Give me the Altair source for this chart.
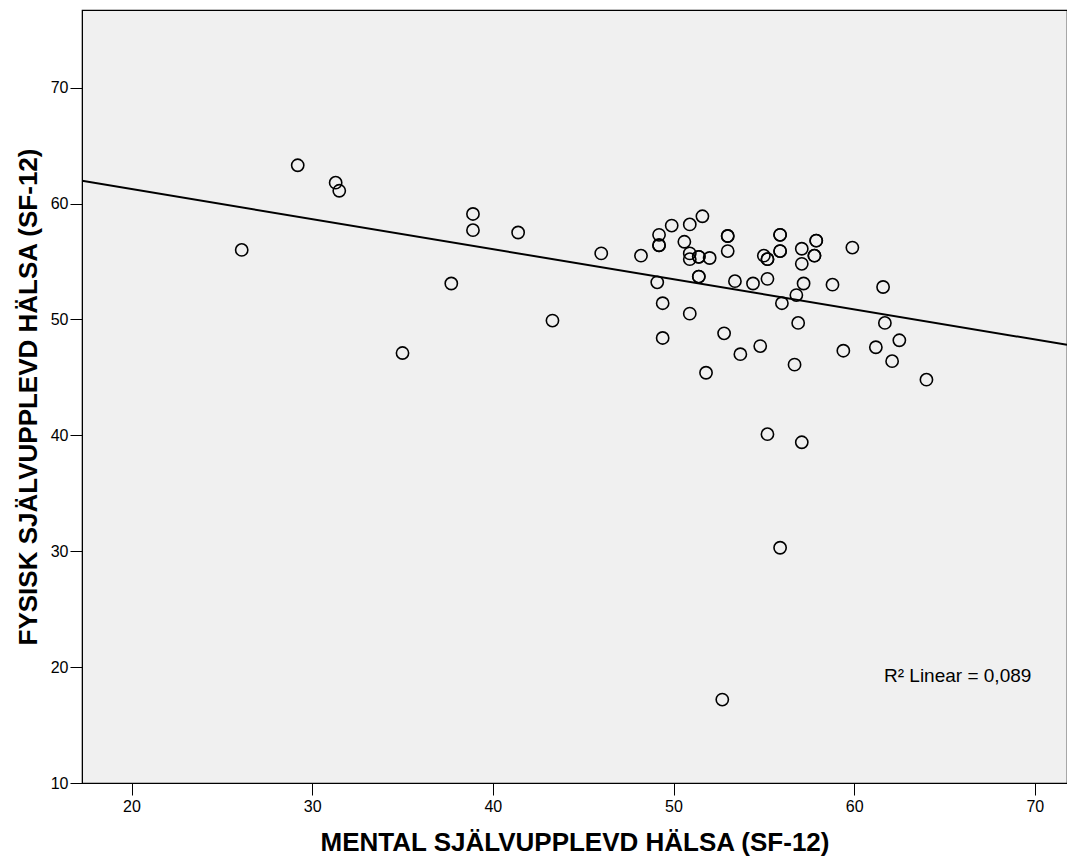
import altair as alt
import pandas as pd

mental = [26.1, 29.2, 31.3, 31.5, 35.0, 37.7, 38.9, 38.9, 41.4, 43.3,
          46.0, 48.2, 49.1, 49.2, 49.2, 49.2, 49.4, 49.4, 49.9, 50.6,
          50.9, 50.9, 50.9, 50.9, 51.4, 51.4, 51.4, 51.4, 51.6, 51.8,
          52.0, 52.7, 52.8, 53.0, 53.0, 53.0, 53.4, 53.7, 54.4, 54.8,
          55.0, 55.2, 55.2, 55.2, 55.2, 55.9, 55.9, 55.9, 55.9, 55.9,
          56.0, 56.7, 56.8, 56.9, 57.1, 57.1, 57.1, 57.2, 57.9, 57.9,
          57.8, 57.8, 58.8, 59.4, 59.9, 61.2, 61.6, 61.7, 62.1, 62.5,
          64.0]
fysisk = [56.0, 63.3, 61.8, 61.1, 47.1, 53.1, 59.1, 57.7, 57.5, 49.9,
          55.7, 55.5, 53.2, 57.3, 56.4, 56.4, 51.4, 48.4, 58.1, 56.7,
          58.2, 55.7, 55.2, 50.5, 55.4, 55.4, 53.7, 53.7, 58.9, 45.4,
          55.3, 17.2, 48.8, 55.9, 57.2, 57.2, 53.3, 47.0, 53.1, 47.7,
          55.5, 55.2, 55.2, 40.1, 53.5, 30.3, 57.3, 57.3, 55.9, 55.9,
          51.4, 46.1, 52.1, 49.7, 39.4, 54.8, 56.1, 53.1, 56.8, 56.8,
          55.5, 55.5, 53.0, 47.3, 56.2, 47.6, 52.8, 49.7, 46.4, 48.2,
          44.8]

# fitted linear line as reported (intercept, slope)
fit_intercept = [66.45]
fit_slope = [-0.2597]

x_ticks = [20, 30, 40, 50, 60, 70]
y_ticks = [10, 20, 30, 40, 50, 60, 70]
x_domain = [17.26, 71.78]
y_domain = [10, 76.7]
r2_label = ["R² Linear = 0,089"]

df = pd.DataFrame({"mental": mental, "fysisk": fysisk})
fit_df = pd.DataFrame({"mental": x_domain,
                       "a": fit_intercept * 2, "b": fit_slope * 2})

FONT = "Liberation Sans"

x_enc = alt.X(
    "mental:Q",
    scale=alt.Scale(domain=x_domain, nice=False, zero=False),
    axis=alt.Axis(
        values=x_ticks, title="MENTAL SJÄLVUPPLEVD HÄLSA (SF-12)",
        grid=False, tickSize=12, tickColor="black", domainColor="black",
        labelFont=FONT, labelFontSize=16, labelColor="black", labelPadding=3,
        titleFont=FONT, titleFontSize=26, titleFontWeight="bold",
        titleColor="black", titlePadding=15,
    ),
)
y_enc = alt.Y(
    "fysisk:Q",
    scale=alt.Scale(domain=y_domain, nice=False, zero=False),
    axis=alt.Axis(
        values=y_ticks, title="FYSISK SJÄLVUPPLEVD HÄLSA (SF-12)",
        grid=False, tickSize=12, tickColor="black", domainColor="black",
        labelFont=FONT, labelFontSize=16, labelColor="black", labelPadding=2,
        titleFont=FONT, titleFontSize=26, titleFontWeight="bold",
        titleColor="black", titlePadding=9,
    ),
)

points = alt.Chart(df).mark_point(
    shape="circle", filled=False, size=150, stroke="black", strokeWidth=1.6,
    opacity=1,
).encode(x=x_enc, y=y_enc)

line = alt.Chart(fit_df).transform_calculate(
    fysisk="datum.a + datum.b * datum.mental"
).mark_line(color="black", strokeWidth=2, clip=True).encode(
    x="mental:Q", y="fysisk:Q"
)

label = alt.Chart(pd.DataFrame({"t": r2_label})).mark_text(
    font=FONT, fontSize=19, color="black", align="left", baseline="middle"
).encode(x=alt.value(802), y=alt.value(666), text="t:N")

chart = alt.layer(points, line, label).properties(
    width=985, height=773,
    autosize=alt.AutoSizeParams(type="none"),
    padding={"left": 74, "top": 2, "right": 0, "bottom": 75},
    background="white",
).configure_view(fill="#F0F0F0", stroke="black", strokeWidth=1.2)

chart.save("out.html", embed_options={"renderer": "svg", "actions": False})
